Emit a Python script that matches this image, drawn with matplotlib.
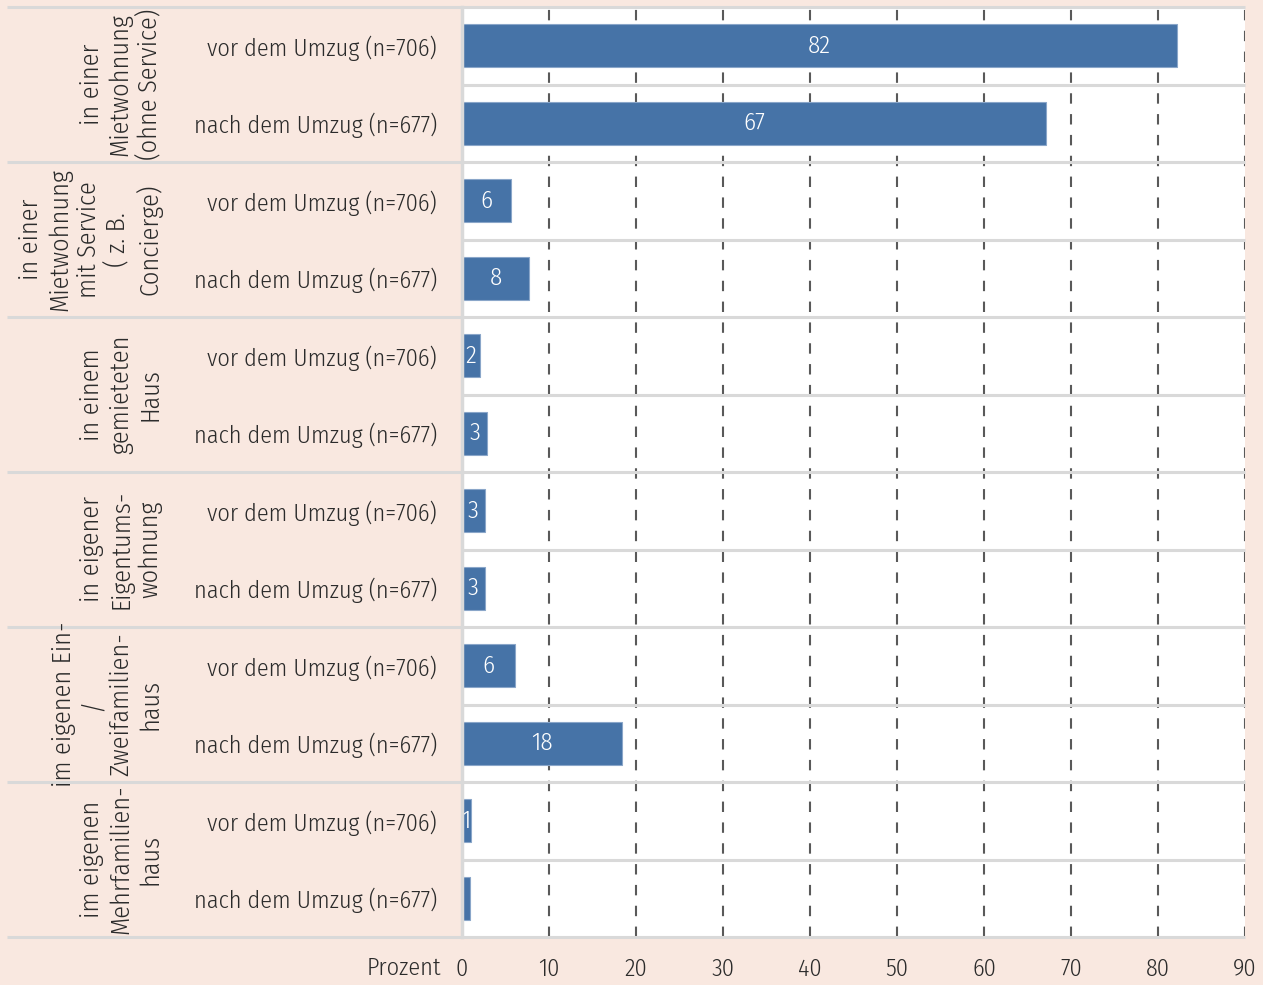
import matplotlib
matplotlib.use("Agg")
import matplotlib.pyplot as plt
import matplotlib.transforms as mtransforms

plt.rcParams["font.family"] = ["Fira Sans Condensed", "DejaVu Sans"]
plt.rcParams["font.stretch"] = "condensed"
plt.rcParams["font.weight"] = 300

# Daten
gruppen = [
    "in einer\nMietwohnung\n(ohne Service)",
    "in einer\nMietwohnung\nmit Service\n( z. B.\nConcierge)",
    "in einem\ngemieteten\nHaus",
    "in eigener\nEigentums-\nwohnung",
    "im eigenen Ein-\n/\nZweifamilien-\nhaus",
    "im eigenen\nMehrfamilien-\nhaus",
]
zeitpunkte = ["vor dem Umzug (n=706)", "nach dem Umzug (n=677)"]
werte = [82.2, 67.1, 5.6, 7.7, 2.1, 2.9, 2.6, 2.6, 6.1, 18.4, 1.0, 0.9]
beschriftungen = ["82", "67", "6", "8", "2", "3", "3", "3", "6", "18", "1", ""]
x_ticks = [0, 10, 20, 30, 40, 50, 60, 70, 80, 90]

rosa = "#f9e8e0"
blau = "#4673a7"
hellgrau = "#d9d9d9"
schrift = "#2b2b2b"
groesse = 17.5

fig = plt.figure(figsize=(12.63, 9.85), dpi=100, facecolor=rosa)
ax = fig.add_axes([462 / 1263, 1 - 937 / 985, 783 / 1263, 930 / 985])
ax.set_facecolor("white")

zeilen = list(range(len(werte)))
zeilen_namen = [zeitpunkte[i % 2] for i in zeilen]

# vertikale Hilfslinien
for t in x_ticks[1:]:
    ax.axvline(t, color="#595959", lw=1.5, dashes=(5, 5), zorder=1)

# horizontale Trennlinien (Gruppengrenzen reichen bis in den Beschriftungsbereich)
trans = mtransforms.blended_transform_factory(ax.transAxes, ax.transData)
for i in range(len(werte) + 1):
    y = i - 0.5
    x_start = -0.581 if i % 2 == 0 else 0
    ax.plot([x_start, 1], [y, y], color=hellgrau, lw=2.2, transform=trans,
            clip_on=False, zorder=2, solid_capstyle="butt")

balken = ax.barh(zeilen, werte, height=0.555, color=blau, edgecolor="#8aa6c9",
                 linewidth=0.8, zorder=3)
for b, txt in zip(balken, beschriftungen):
    ax.text(b.get_width() / 2, b.get_y() + b.get_height() / 2, txt,
            ha="center", va="center", color="white", fontsize=18, zorder=4)

ax.set_xlim(0, 90)
ax.set_ylim(11.5, -0.5)
ax.set_xticks(x_ticks)
ax.set_xticklabels([str(t) for t in x_ticks])
ax.set_yticks(zeilen)
ax.set_yticklabels(zeilen_namen)
ax.tick_params(axis="y", length=0, pad=18, labelsize=groesse, labelcolor=schrift)
ax.tick_params(axis="x", length=0, pad=15, labelsize=groesse, labelcolor=schrift)

for s in ["top", "right", "bottom"]:
    ax.spines[s].set_visible(False)
ax.spines["left"].set_color(hellgrau)
ax.spines["left"].set_linewidth(2.5)
ax.spines["left"].set_zorder(5)

# Gruppenbeschriftungen
for g, name in enumerate(gruppen):
    ax.text(-0.383, 2 * g + 0.5, name, transform=trans, rotation=90,
            ha="right", va="center", multialignment="center",
            fontsize=18.8, color=schrift, linespacing=1.2)

fig.text(441 / 1263, 1 - 968 / 985, "Prozent", ha="right", va="center",
         fontsize=groesse, color=schrift)

fig.savefig("out.png", dpi=100, facecolor=rosa)
